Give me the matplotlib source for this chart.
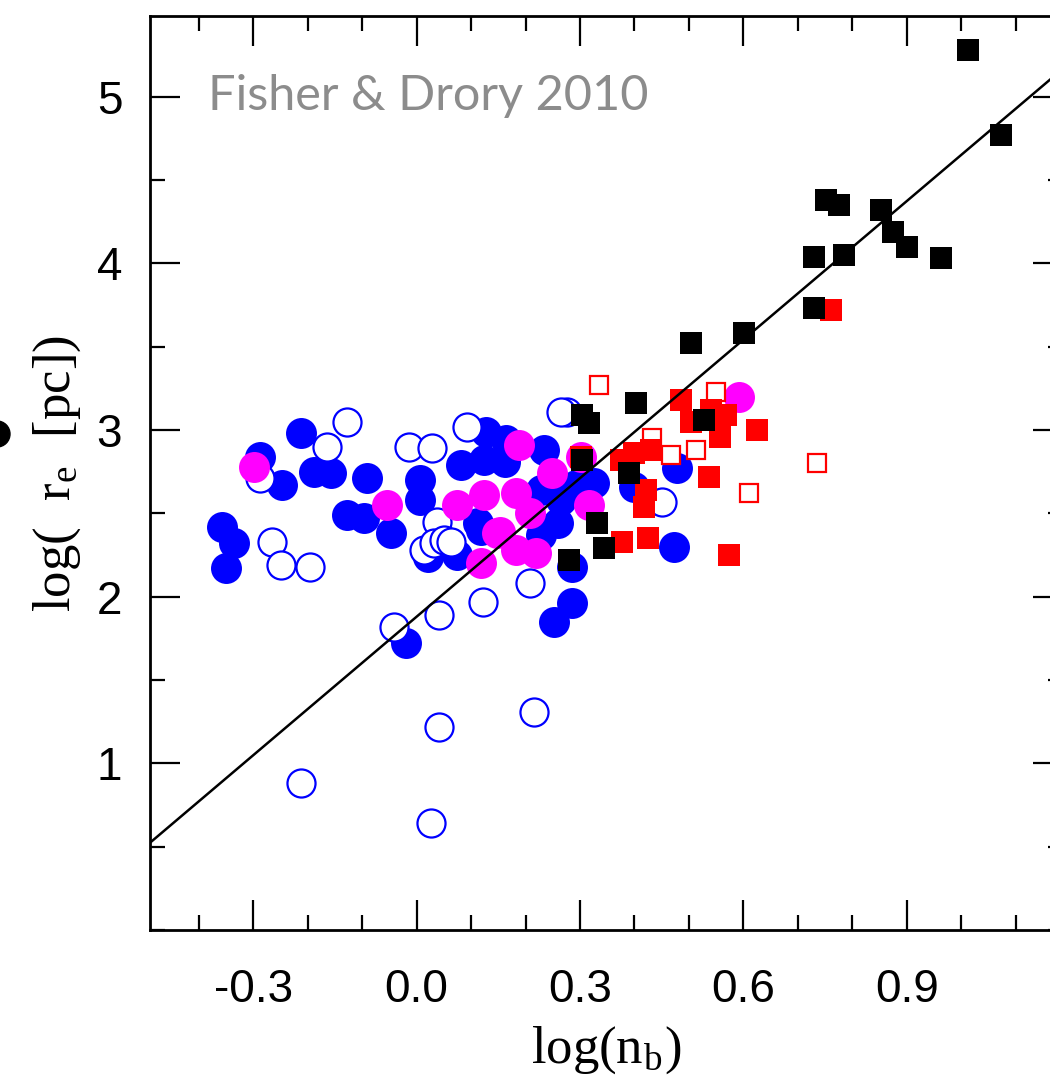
import matplotlib
matplotlib.use("Agg")
import matplotlib.pyplot as plt
from matplotlib.patches import Circle
from matplotlib.ticker import MultipleLocator, FixedLocator
import numpy as np

# ---- data (log n_b, log r_e) ----
blue_filled_x = [-0.213, -0.287, -0.247, -0.189, -0.158, -0.091, -0.357, -0.336, -0.351,
                 -0.127, -0.097, -0.048, 0.127, 0.007, 0.007, 0.081, 0.123, 0.118, 0.020,
                 0.075, -0.020, 0.286, 0.252, 0.286, 0.234, 0.112, 0.259, 0.326, 0.473,
                 0.479, 0.399, 0.163, 0.228, 0.265, 0.292, 0.228, 0.164]
blue_filled_y = [2.98, 2.84, 2.67, 2.75, 2.74, 2.71, 2.42, 2.32, 2.17,
                 2.49, 2.47, 2.38, 2.99, 2.70, 2.58, 2.79, 2.82, 2.40, 2.24,
                 2.25, 1.72, 1.96, 1.85, 2.18, 2.88, 2.44, 2.44, 2.68, 2.30,
                 2.77, 2.66, 2.81, 2.64, 2.58, 2.67, 2.37, 2.94]

blue_open_x = [-0.127, -0.164, -0.287, -0.265, -0.250, -0.195, -0.014, 0.029, 0.093,
               0.038, 0.013, 0.031, 0.050, 0.063, 0.121, 0.041, -0.042, 0.209,
               -0.213, 0.041, 0.216, 0.026, 0.277, 0.265, 0.451]
blue_open_y = [3.05, 2.90, 2.71, 2.33, 2.19, 2.18, 2.90, 2.89, 3.02,
               2.45, 2.28, 2.32, 2.34, 2.33, 1.97, 1.89, 1.82, 2.08,
               0.88, 1.22, 1.31, 0.64, 3.11, 3.11, 2.57]

magenta_x = [-0.299, -0.054, 0.075, 0.124, 0.118, 0.148, 0.188, 0.249, 0.182,
             0.209, 0.154, 0.219, 0.182, 0.317, 0.301, 0.592]
magenta_y = [2.78, 2.55, 2.55, 2.61, 2.20, 2.38, 2.91, 2.74, 2.62,
             2.50, 2.39, 2.26, 2.28, 2.55, 2.84, 3.20]

red_filled_x = [0.761, 0.485, 0.503, 0.558, 0.626, 0.540, 0.568, 0.375, 0.399, 0.430,
                0.421, 0.417, 0.537, 0.378, 0.424, 0.574, 0.301]
red_filled_y = [3.72, 3.18, 3.05, 2.96, 3.00, 3.12, 3.09, 2.82, 2.86, 2.88,
                2.64, 2.54, 2.72, 2.33, 2.35, 2.25, 2.84]

red_open_x = [0.335, 0.549, 0.433, 0.467, 0.513, 0.610, 0.735]
red_open_y = [3.27, 3.23, 2.95, 2.85, 2.88, 2.62, 2.80]

black_x = [1.012, 1.073, 0.751, 0.776, 0.852, 0.874, 0.901, 0.963, 0.730, 0.785,
           0.730, 0.601, 0.503, 0.402, 0.528, 0.304, 0.317, 0.304, 0.390, 0.332,
           0.344, 0.280]
black_y = [5.28, 4.77, 4.38, 4.35, 4.32, 4.19, 4.10, 4.03, 4.04, 4.05,
           3.73, 3.58, 3.52, 3.16, 3.06, 3.09, 3.04, 2.82, 2.74, 2.44,
           2.29, 2.22]

fit_slope = 2.77
fit_intercept = 1.88

xticks = [-0.3, 0.0, 0.3, 0.6, 0.9]
xticklabels = ["-0.3", "0.0", "0.3", "0.6", "0.9"]
yticks = [1, 2, 3, 4, 5]
annotation = "Fisher & Drory 2010"

# ---- figure ----
plt.rcParams['mathtext.fontset'] = 'stix'
fig = plt.figure(figsize=(10.5, 10.76), dpi=100)
ax = fig.add_axes([150/1050, (1076-930)/1076, (1063-150)/1050, (930-16)/1076])
xmin, xmax = -0.4897, 1.1871
ax.set_xlim(xmin, xmax)
ax.set_ylim(0, 5.484)

BLUE = "#0000ff"
MAG = "#ff00ff"
RED = "#ff0000"

ax.plot(blue_filled_x, blue_filled_y, 'o', ms=22.3, mfc=BLUE, mec=BLUE, mew=0, ls='none', zorder=2)
ax.plot(blue_open_x, blue_open_y, 'o', ms=20.2, mfc='white', mec=BLUE, mew=1.6, ls='none', zorder=2.1)
ax.plot(magenta_x, magenta_y, 'o', ms=22.3, mfc=MAG, mec=MAG, mew=0, ls='none', zorder=3)
ax.plot(red_open_x, red_open_y, 's', ms=13.0, mfc='white', mec=RED, mew=1.6, ls='none', zorder=4)
ax.plot(red_filled_x, red_filled_y, 's', ms=15.3, mfc=RED, mec=RED, mew=0, ls='none', zorder=4.1)
ax.plot(black_x, black_y, 's', ms=15.3, mfc='black', mec='black', mew=0, ls='none', zorder=5)

lx = np.array([xmin, xmax])
ax.plot(lx, fit_intercept + fit_slope * lx, color='black', lw=1.8, zorder=6)

# ticks
ax.xaxis.set_major_locator(FixedLocator(xticks))
ax.set_xticklabels(xticklabels)
ax.xaxis.set_minor_locator(MultipleLocator(0.1))
ax.yaxis.set_major_locator(FixedLocator(yticks))
ax.yaxis.set_minor_locator(MultipleLocator(0.5))
ax.tick_params(which='both', direction='in', top=True, right=True, width=1.6, color='black')
ax.tick_params(which='major', length=21.6)
ax.tick_params(which='minor', length=10.8)
ax.tick_params(axis='x', which='major', pad=27)
ax.tick_params(axis='y', which='major', pad=20)
for lab in ax.get_xticklabels() + ax.get_yticklabels():
    lab.set_fontfamily('Liberation Sans')
    lab.set_fontsize(33)
for sp in ax.spines.values():
    sp.set_linewidth(2.0)

ax.set_xlabel(r"log(n$_{\mathregular{b}}$)", fontfamily='Liberation Serif', fontsize=38, labelpad=9)
ax.set_ylabel(r"log(  r$_{\mathregular{e}}$  [pc])", fontfamily='Liberation Serif', fontsize=38, labelpad=10)

ax.text((208-150)/913, 1 - (110-16)/914, annotation, transform=ax.transAxes,
        fontfamily='Lato', fontsize=35, color='#8c8c8c', ha='left', va='baseline')

# bullet at left edge of slide
fig.add_artist(Circle((-0.03, (1076-434)/100), 0.13, transform=fig.dpi_scale_trans,
                      color='black', clip_on=False))

fig.savefig("out.png", dpi=100)
